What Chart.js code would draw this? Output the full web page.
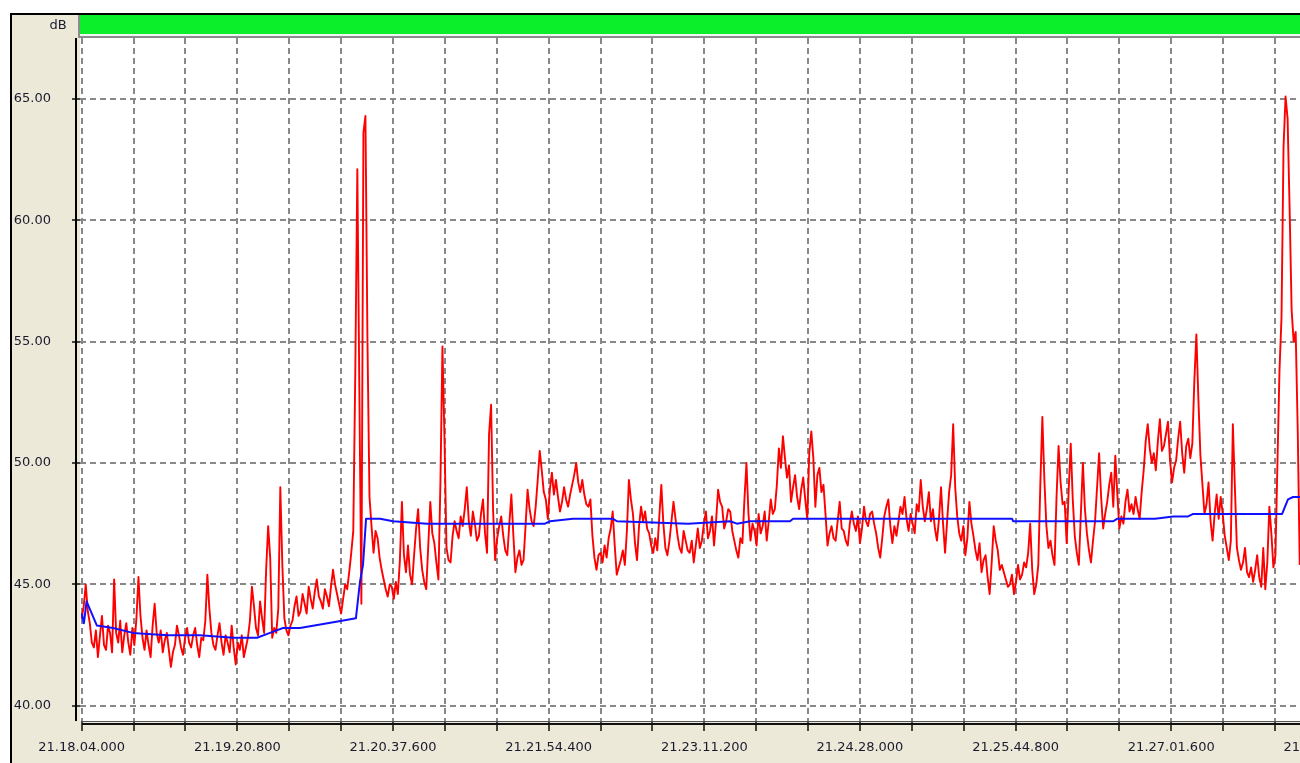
<!DOCTYPE html>
<html>
<head>
<meta charset="utf-8">
<title>dB</title>
<script src="https://cdn.jsdelivr.net/npm/chart.js@4.4.1/dist/chart.umd.min.js"></script>
<style>
  html, body { margin: 0; padding: 0; overflow: hidden; background: #fff; }
  #wrap { position: absolute; left: 0; top: 0; }
</style>
</head>
<body>
<div id="wrap"><canvas id="levelChart" width="1400" height="763"></canvas></div>
<script>
// Sound level log starting at 21.18.04.000, one sample per second (dB)
const sampleStep = 1;
const levelValues = [
  43.6, 44.1, 45.0, 43.9, 43.4, 42.6, 42.4, 43.1, 42.0, 42.9, 43.7, 42.5, 42.3, 43.3, 43.0, 42.2, 45.2, 43.0, 42.6, 43.5,
  42.2, 42.9, 43.4, 42.6, 42.1, 43.2, 42.5, 43.6, 45.3, 43.7, 42.8, 42.3, 43.1, 42.5, 42.0, 43.3, 44.2, 43.0, 42.6, 43.1,
  42.2, 42.7, 43.0, 42.3, 41.6, 42.2, 42.5, 43.3, 42.9, 42.4, 42.1, 42.8, 43.2, 42.6, 42.4, 42.9, 43.2, 42.5, 42.0, 42.8,
  42.7, 43.5, 45.4, 44.0, 43.0, 42.5, 42.3, 42.9, 43.4, 42.6, 42.1, 42.9, 42.6, 42.2, 43.3, 42.4, 41.7, 42.6, 42.3, 42.9,
  42.0, 42.4, 42.8, 43.5, 44.9, 44.1, 43.2, 42.9, 44.3, 43.6, 43.0, 45.6, 47.4, 46.1, 42.8, 43.2, 43.0, 44.0, 49.0, 45.8,
  43.6, 43.1, 42.9, 43.3, 43.5, 44.1, 44.5, 43.7, 43.9, 44.6, 44.2, 43.8, 44.9, 44.4, 44.0, 44.7, 45.2, 44.5, 44.3, 44.0,
  44.8, 44.5, 44.1, 44.9, 45.6, 45.0, 44.6, 44.2, 43.8, 44.4, 45.0, 44.8, 45.5, 46.3, 47.2, 53.8, 62.1, 53.0, 44.2, 63.6,
  64.3, 55.0, 48.6, 47.4, 46.3, 47.2, 46.9, 46.1, 45.6, 45.2, 44.8, 44.5, 45.0, 44.9, 44.4, 45.1, 44.6, 46.0, 48.4, 46.2,
  45.5, 46.6, 45.4, 45.0, 46.2, 47.3, 48.1, 46.5, 45.6, 45.1, 44.8, 46.6, 48.4, 47.1, 46.7, 45.9, 45.2, 49.2, 54.8, 51.0,
  46.5, 46.0, 45.9, 47.0, 47.6, 47.2, 46.9, 47.8, 47.4, 48.1, 49.0, 47.6, 47.0, 48.0, 47.5, 46.8, 47.0, 47.9, 48.5, 47.1,
  46.3, 51.2, 52.4, 48.0, 46.0, 46.9, 47.4, 47.8, 47.0, 46.4, 46.2, 47.5, 48.7, 47.0, 45.5, 46.1, 46.4, 45.8, 46.0, 47.4,
  48.9, 48.1, 47.6, 47.4, 48.2, 49.3, 50.5, 49.7, 48.8, 48.5, 47.7, 48.9, 49.6, 48.7, 49.3, 48.6, 48.0, 48.4, 49.0, 48.5,
  48.2, 48.7, 49.1, 49.5, 50.0, 49.2, 48.8, 49.3, 48.7, 48.3, 48.2, 48.5, 47.0, 46.1, 45.6, 46.2, 46.3, 45.9, 46.6, 46.1,
  46.9, 47.3, 48.0, 46.6, 45.4, 45.7, 46.0, 46.4, 45.8, 47.2, 49.3, 48.5, 47.9, 46.7, 46.0, 47.4, 48.2, 47.6, 48.0, 47.3,
  47.1, 46.6, 46.3, 46.9, 46.4, 47.8, 49.1, 47.5, 46.5, 46.2, 46.8, 47.6, 48.4, 47.7, 47.0, 46.5, 46.3, 47.2, 46.8, 46.4,
  46.3, 46.8, 45.9, 46.6, 47.3, 46.5, 46.8, 47.5, 48.0, 46.9, 47.2, 47.8, 46.6, 47.6, 48.9, 48.4, 48.2, 47.3, 47.6, 48.1,
  48.0, 47.2, 46.8, 46.4, 46.1, 46.9, 46.7, 48.5, 50.0, 47.9, 46.8, 47.5, 47.2, 46.6, 47.9, 47.1, 47.4, 48.0, 46.8, 47.6,
  48.5, 47.9, 48.1, 49.1, 50.6, 49.8, 51.1, 50.2, 49.4, 49.9, 48.4, 49.0, 49.5, 48.6, 48.1, 48.9, 49.4, 48.5, 47.7, 50.4,
  51.3, 50.2, 48.2, 49.5, 49.8, 48.8, 49.1, 47.9, 46.6, 47.1, 47.4, 46.9, 46.8, 47.6, 48.4, 47.3, 47.2, 46.8, 46.6, 47.5,
  48.0, 47.5, 47.2, 47.8, 46.7, 47.3, 48.2, 47.6, 47.4, 47.9, 48.0, 47.5, 47.1, 46.5, 46.1, 46.9, 47.8, 48.2, 48.5, 47.4,
  46.7, 47.4, 47.0, 47.6, 48.2, 47.9, 48.6, 47.7, 47.2, 47.9, 47.5, 47.1, 48.3, 48.0, 49.3, 48.2, 47.6, 48.1, 48.8, 47.6,
  48.1, 47.3, 46.8, 47.7, 49.0, 47.5, 46.3, 47.6, 48.8, 49.5, 51.6, 49.0, 47.8, 47.1, 46.8, 47.4, 46.2, 46.9, 48.4, 47.5,
  47.0, 46.4, 46.0, 46.7, 45.5, 46.0, 46.2, 45.3, 44.6, 45.9, 47.4, 46.8, 46.4, 45.6, 45.8, 45.5, 45.2, 44.9, 45.0, 45.4,
  44.6, 45.1, 45.8, 45.2, 45.4, 45.9, 45.7, 46.3, 47.5, 45.6, 44.6, 45.0, 45.8, 49.1, 51.9, 49.3, 47.4, 46.5, 46.8, 46.2,
  45.8, 48.6, 50.7, 49.2, 48.3, 48.4, 46.7, 48.9, 50.8, 48.5, 47.0, 46.3, 45.8, 47.9, 50.0, 48.1, 47.1, 46.4, 45.9, 46.8,
  47.6, 49.0, 50.4, 48.6, 47.3, 47.9, 48.4, 49.1, 49.6, 48.2, 50.3, 48.7, 47.3, 47.8, 47.5, 48.4, 48.9, 48.0, 48.3, 47.9,
  48.6, 48.1, 47.7, 48.8, 49.7, 50.9, 51.6, 50.6, 50.0, 50.4, 49.7, 50.9, 51.8, 50.5, 50.7, 51.2, 51.7, 50.1, 49.2, 49.8,
  50.1, 51.0, 51.7, 50.4, 49.6, 50.7, 51.0, 50.2, 50.8, 53.4, 55.3, 52.6, 50.3, 49.1, 47.9, 48.3, 49.2, 47.6, 46.8, 47.9,
  48.7, 47.7, 48.6, 47.9, 47.0, 46.5, 46.0, 46.8, 51.6, 49.0, 46.5, 46.0, 45.6, 45.9, 46.5, 45.5, 45.3, 45.7, 45.1, 45.6,
  46.2, 45.3, 44.9, 46.5, 44.8, 45.9, 48.2, 47.1, 45.7, 46.2, 50.0, 53.8, 56.0, 63.0, 65.1, 64.2, 60.5, 56.3, 55.0, 55.4,
  51.4, 45.8
];

// running Leq (seconds from start, dB)
const leqTimes = [
  0, 1.1, 2.4, 7.5, 15.4, 25.3, 42.1, 58.4, 74.7, 86.5,
  92.9, 99.3, 107.7, 128.4, 135.3, 137.3, 138.8, 140.3, 147.2, 153.6,
  170.4, 200.5, 228.6, 231.1, 242.4, 262.2, 264.1, 299.2, 319.9, 323.3,
  329.8, 349.5, 351.0, 459.1, 459.6, 509.0, 510.8, 529.6, 538.5, 545.9,
  548.4, 592.3, 595.2, 597.7, 602.0
];
const leqValues = [
  43.8, 43.4, 44.3, 43.3, 43.2, 43.0, 42.9, 42.9, 42.8, 42.8,
  43.0, 43.2, 43.2, 43.5, 43.6, 45.1, 45.8, 47.7, 47.7, 47.6,
  47.5, 47.5, 47.5, 47.6, 47.7, 47.7, 47.6, 47.5, 47.6, 47.5,
  47.6, 47.6, 47.7, 47.7, 47.6, 47.6, 47.7, 47.7, 47.8, 47.8,
  47.9, 47.9, 48.5, 48.6, 48.6
];

const timeLabels = [
  '21.18.04.000', '21.19.20.800', '21.20.37.600', '21.21.54.400', '21.23.11.200',
  '21.24.28.000', '21.25.44.800', '21.27.01.600', '21.28.18.400'
];
const gridStep = 25.6;   // s between vertical grid lines
const labelEvery = 3;    // one time label per 3 grid lines
const levelTicks = [40, 45, 50, 55, 60, 65];

const tickSeconds = [];
for (let k = 0; k <= (timeLabels.length - 1) * labelEvery; k++) tickSeconds.push(k * gridStep);

const levelPoints = levelValues.map((v, i) => ({ x: i * sampleStep, y: v }));
const leqPoints = leqTimes.map((t, i) => ({ x: t, y: leqValues[i] }));

Chart.defaults.font.family = "'DejaVu Sans', sans-serif";
Chart.defaults.font.size = 13;
Chart.defaults.color = '#1a1a2e';

// window frame, level bar and axis lines
const panelFrame = {
  id: 'panelFrame',
  beforeDraw(chart) {
    const { ctx, width, height, chartArea: a } = chart;
    ctx.save();
    ctx.fillStyle = '#ffffff';
    ctx.fillRect(0, 0, width, height);
    ctx.fillStyle = '#ece9d8';
    ctx.fillRect(12, 15, width - 12, height - 15);
    ctx.fillStyle = '#000000';
    ctx.fillRect(10, 13, width - 10, 2);
    ctx.fillRect(10, 13, 2, height - 13);

    ctx.fillStyle = '#8c8c8c';
    ctx.fillRect(78, 15, width - 78, a.top - 15);
    ctx.fillStyle = '#0bef2b';
    ctx.fillRect(80, 15, width - 80, 19);
    ctx.fillStyle = '#f4f4f4';
    ctx.fillRect(80, 34, width - 80, 2);

    ctx.fillStyle = '#ffffff';
    ctx.fillRect(a.left, a.top, width - a.left, a.bottom - a.top);
    ctx.restore();
  },
  afterDraw(chart) {
    const { ctx, width, chartArea: a, scales } = chart;
    const x0 = Math.round(scales.x.getPixelForValue(0));
    ctx.save();
    ctx.fillStyle = '#000000';
    ctx.fillRect(75, a.top, 2, a.bottom - a.top);
    ctx.fillStyle = '#555555';
    ctx.fillRect(x0, a.bottom, width - x0, 1);
    ctx.fillStyle = '#111111';
    ctx.fillRect(x0, a.bottom + 2, width - x0, 2);

    ctx.fillStyle = '#1a1a2e';
    ctx.font = "13px 'DejaVu Sans', sans-serif";
    ctx.textAlign = 'center';
    ctx.textBaseline = 'middle';
    ctx.fillText('dB', 58, 26);
    ctx.restore();
  }
};

new Chart(document.getElementById('levelChart'), {
  type: 'line',
  data: {
    datasets: [
      {
        label: 'Leq',
        data: leqPoints,
        borderColor: '#1010ff',
        borderWidth: 2,
        order: 1
      },
      {
        label: 'L',
        data: levelPoints,
        borderColor: '#ff0000',
        borderWidth: 1.9,
        order: 2
      }
    ]
  },
  options: {
    responsive: false,
    animation: false,
    layout: { padding: { top: 38, right: 20, bottom: 0, left: 0 } },
    elements: {
      point: { radius: 0 },
      line: { tension: 0, borderJoinStyle: 'round', fill: false }
    },
    plugins: {
      legend: { display: false },
      tooltip: { enabled: false }
    },
    scales: {
      x: {
        type: 'linear',
        min: -0.84,
        max: 640.6,
        afterBuildTicks: (scale) => { scale.ticks = tickSeconds.map(v => ({ value: v })); },
        afterFit: (scale) => { scale.height = 42; },
        grid: { color: '#888888', lineWidth: 2, tickLength: 10, tickColor: '#111111', tickWidth: 1.5, tickBorderDash: [] },
        border: { display: false, dash: [6, 4] },
        ticks: {
          autoSkip: false,
          maxRotation: 0,
          padding: 9,
          callback: (v, i) => (i % labelEvery === 0 ? timeLabels[i / labelEvery] : '')
        }
      },
      y: {
        type: 'linear',
        min: 39.37,
        max: 67.51,
        afterBuildTicks: (scale) => { scale.ticks = levelTicks.map(v => ({ value: v })); },
        afterFit: (scale) => { scale.width = 80; },
        grid: { color: '#888888', lineWidth: 2, tickLength: 8, tickColor: '#111111', tickWidth: 1.5, tickBorderDash: [] },
        border: { display: false, dash: [6, 4] },
        ticks: { padding: 21, callback: (v) => Number(v).toFixed(2) }
      }
    }
  },
  plugins: [panelFrame]
});
</script>
</body>
</html>
